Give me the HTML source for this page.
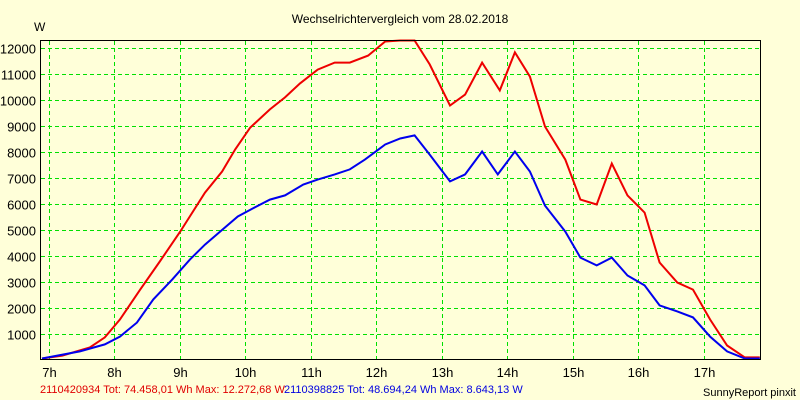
<!DOCTYPE html>
<html><head><meta charset="utf-8"><style>
html,body{margin:0;padding:0;background:#ffffd9;}
svg{display:block;font-family:"Liberation Sans",Arial,sans-serif;}
</style></head><body>
<svg id="chart" width="800" height="400">
<rect x="0" y="0" width="800" height="400" fill="#ffffd9"/>
<text x="400" y="23" text-anchor="middle" font-size="12" fill="#000">Wechselrichtervergleich vom 28.02.2018</text>
<text x="34" y="31" font-size="12" fill="#000">W</text>
<g id="grid"></g>
<g id="series"></g>
<line x1="40.5" y1="40" x2="40.5" y2="359.5" stroke="#000"/>
<line x1="40" y1="40.5" x2="760.5" y2="40.5" stroke="#000"/>
<line x1="760.5" y1="40" x2="760.5" y2="359.5" stroke="#000"/>
<line x1="40" y1="359.5" x2="761" y2="359.5" stroke="#000"/>
<text x="40" y="393" font-size="11" fill="#e00000">2110420934 Tot: 74.458,01 Wh Max: 12.272,68 W</text>
<text x="284" y="393" font-size="11" fill="#0000e0">2110398825 Tot: 48.694,24 Wh Max: 8.643,13 W</text>
<text x="796" y="396" text-anchor="end" font-size="11" fill="#000">SunnyReport pinxit</text>
</svg>
<script>
const xTickLabels = ["7h","8h","9h","10h","11h","12h","13h","14h","15h","16h","17h"];
const xTickHours = [7,8,9,10,11,12,13,14,15,16,17];
const yTickValues = [1000,2000,3000,4000,5000,6000,7000,8000,9000,10000,11000,12000];
const redTimes = [6.90,7.21,7.63,7.86,8.09,8.40,8.70,9.01,9.39,9.65,9.85,10.08,10.38,10.61,10.84,11.11,11.37,11.60,11.88,12.14,12.37,12.59,12.82,13.13,13.36,13.62,13.89,14.12,14.35,14.58,14.89,15.12,15.37,15.60,15.84,16.10,16.33,16.60,16.84,17.10,17.36,17.63,17.86];
const redValues = [40,150,460,850,1540,2690,3770,4920,6420,7230,8080,8920,9620,10080,10620,11150,11420,11420,11690,12230,12270,12270,11350,9770,10190,11420,10350,11810,10880,8960,7690,6150,5960,7540,6310,5650,3730,2960,2690,1540,540,80,80];
const blueTimes = [6.90,7.48,7.86,8.09,8.35,8.60,8.89,9.16,9.39,9.62,9.89,10.15,10.38,10.61,10.89,11.11,11.37,11.60,11.83,12.14,12.37,12.59,12.82,13.13,13.36,13.62,13.86,14.12,14.35,14.58,14.89,15.12,15.37,15.60,15.84,16.10,16.33,16.60,16.84,17.10,17.36,17.63,17.86];
const blueValues = [40,310,580,880,1420,2310,3080,3850,4420,4920,5500,5850,6150,6310,6730,6920,7120,7310,7690,8270,8500,8620,7880,6850,7120,8000,7120,8000,7230,5920,4920,3920,3620,3920,3230,2850,2080,1850,1620,880,310,40,40];

const NS="http://www.w3.org/2000/svg";
function xScale(h){ return 48.5 + (h-7)*65.5; }
function yScale(v){ return 359.5 - v*0.026; }
const grid=document.getElementById('grid');
const chart=document.getElementById('chart');
xTickHours.forEach((h,i)=>{
  const x=Math.round(xScale(h))+0.5;
  const l=document.createElementNS(NS,'line');
  l.setAttribute('x1',x);l.setAttribute('x2',x);l.setAttribute('y1',41);l.setAttribute('y2',359);
  l.setAttribute('stroke','#00e000');l.setAttribute('stroke-dasharray','4,3');
  
  
  grid.appendChild(l);
  const t=document.createElementNS(NS,'text');
  t.setAttribute('x',x);t.setAttribute('y',377);t.setAttribute('text-anchor','middle');
  t.setAttribute('font-size','13');t.textContent=xTickLabels[i];
  
  
  chart.appendChild(t);
});
yTickValues.forEach(v=>{
  const y=Math.round(yScale(v))+0.5;
  const l=document.createElementNS(NS,'line');
  l.setAttribute('x1',41);l.setAttribute('x2',760);l.setAttribute('y1',y);l.setAttribute('y2',y);
  l.setAttribute('stroke','#00e000');l.setAttribute('stroke-dasharray','4,3');
  
  
  grid.appendChild(l);
  const t=document.createElementNS(NS,'text');
  t.setAttribute('x',36);t.setAttribute('y',y+5);t.setAttribute('text-anchor','end');
  t.setAttribute('font-size','13');t.textContent=v;
  
  
  chart.appendChild(t);
});
function drawLine(times,vals,color,name){
  const p=document.createElementNS(NS,'polyline');
  p.setAttribute('points',times.map((t,i)=>xScale(t).toFixed(1)+','+Math.min(359,yScale(vals[i])).toFixed(1)).join(' '));
  p.setAttribute('fill','none');p.setAttribute('stroke',color);p.setAttribute('stroke-width','2');
  
  
  document.getElementById('series').appendChild(p);
}
drawLine(redTimes,redValues,'#ee0000','series-2110420934');
drawLine(blueTimes,blueValues,'#0000ee','series-2110398825');
</script>
</body></html>
